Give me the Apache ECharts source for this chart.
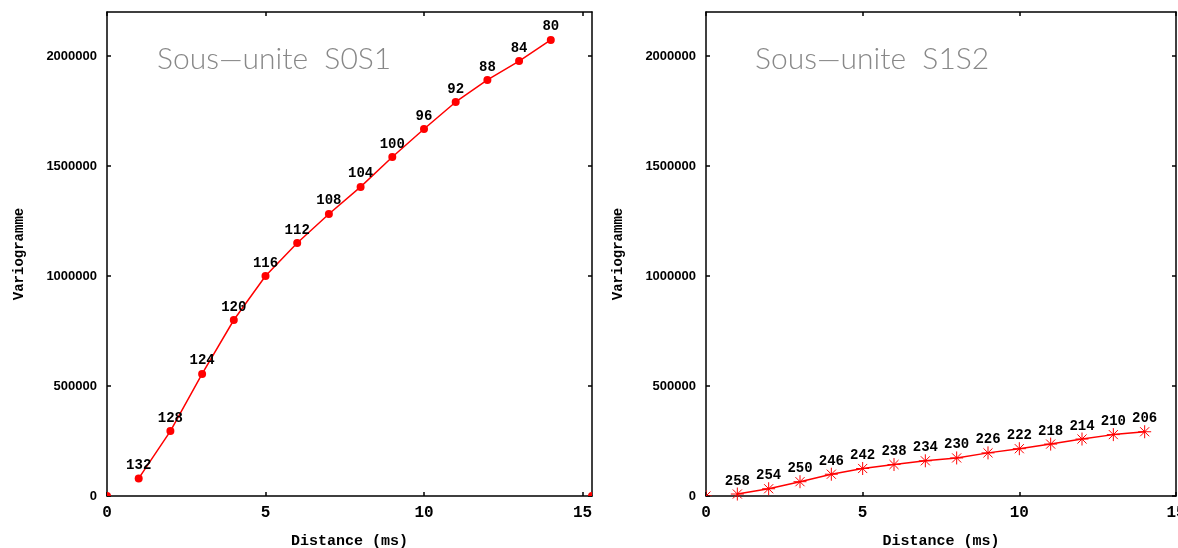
<!DOCTYPE html>
<html>
<head>
<meta charset="utf-8">
<script src="https://cdn.jsdelivr.net/npm/echarts@6/dist/echarts.min.js"></script>
<style>
html,body{margin:0;padding:0;background:#fff;}
#chart{width:1178px;height:548px;}
</style>
</head>
<body>
<div id="chart"></div>
<script>
// ---- data ----
const distances = [1, 2, 3, 4, 5, 6, 7, 8, 9, 10, 11, 12, 13, 14];
const s0s1Values = [80000, 295000, 555000, 800000, 1000000, 1150000, 1282000, 1405000, 1541000, 1668000, 1791000, 1891000, 1977000, 2073000];
const s0s1Labels = [132, 128, 124, 120, 116, 112, 108, 104, 100, 96, 92, 88, 84, 80];
const s1s2Values = [9000, 33000, 65000, 99000, 125000, 143000, 160000, 173000, 196000, 215000, 236000, 259000, 279000, 292000];
const s1s2Labels = [258, 254, 250, 246, 242, 238, 234, 230, 226, 222, 218, 214, 210, 206];
const xTickValues = [0, 5, 10, 15];
const yTickValues = [0, 500000, 1000000, 1500000, 2000000];
const panelTitles = ['Sous\u2014unite  S0S1', 'Sous\u2014unite  S1S2'];
const xAxisName = 'Distance (ms)';
const yAxisName = 'Variogramme';
const leftCornerPoints = [[0, 0], [15.3, 0]];
const rightCornerPoints = [[0, 0]];

// ---- styles ----
const RED = '#ff0000';
const monoBold = {fontFamily: 'Liberation Mono', fontWeight: 'bold', color: '#000'};
const sansBold = {fontFamily: 'Liberation Sans', fontWeight: 'bold', color: '#000'};
const starPath = 'path://M0,10 L20,10 M10,0 L10,20 M3,3 L17,17 M17,3 L3,17';

const grids = [
  {left: 107, top: 12, width: 485, height: 484, outerBoundsMode: 'none', containLabel: false},
  {left: 706, top: 12, width: 470, height: 484, outerBoundsMode: 'none', containLabel: false}
];
const xMax = [15.3, 15];

function xAxes(gi) {
  const base = {
    gridIndex: gi, type: 'value', min: 0, max: xMax[gi], interval: 5,
    axisLine: {show: true, onZero: false, lineStyle: {color: '#000', width: 1.5}},
    splitLine: {show: false},
    axisTick: {show: true, inside: true, length: 4, lineStyle: {color: '#000', width: 1.5}, customValues: xTickValues}
  };
  return [
    Object.assign({}, base, {
      position: 'bottom',
      name: xAxisName, nameLocation: 'middle', nameGap: 38,
      nameTextStyle: Object.assign({fontSize: 15}, monoBold),
      axisLabel: Object.assign({fontSize: 16, margin: 9, customValues: xTickValues,
        formatter: v => (v % 5 === 0 ? String(v) : '')}, monoBold)
    }),
    Object.assign({}, base, {position: 'top', axisLabel: {show: false}})
  ];
}
function yAxes(gi) {
  const base = {
    gridIndex: gi, type: 'value', min: 0, max: 2200000, interval: 500000,
    axisLine: {show: true, onZero: false, lineStyle: {color: '#000', width: 1.5}},
    splitLine: {show: false},
    axisTick: {show: true, inside: true, length: 4, lineStyle: {color: '#000', width: 1.5}, customValues: yTickValues}
  };
  return [
    Object.assign({}, base, {
      position: 'left',
      name: yAxisName, nameLocation: 'middle', nameGap: 81, nameRotate: 90,
      nameTextStyle: Object.assign({fontSize: 14}, monoBold),
      axisLabel: Object.assign({fontSize: 13, margin: 10, customValues: yTickValues,
        formatter: v => (v % 500000 === 0 ? String(v) : '')}, sansBold)
    }),
    Object.assign({}, base, {position: 'right', axisLabel: {show: false}})
  ];
}

function labelFor(labels, dist) {
  return Object.assign({
    show: true, position: 'top', distance: dist, fontSize: 14,
    formatter: p => String(labels[p.dataIndex])
  }, monoBold);
}

function cornerSeries(xi, yi, pts, star) {
  return {
    type: 'custom', xAxisIndex: xi, yAxisIndex: yi, clip: true, z: 1,
    data: pts,
    renderItem: function (params, api) {
      const p = api.coord([api.value(0), api.value(1)]);
      if (star) {
        return {type: 'path', shape: {pathData: 'M-6,0 L6,0 M0,-6 L0,6 M-4.5,-4.5 L4.5,4.5 M4.5,-4.5 L-4.5,4.5', x: p[0]-6, y: p[1]-6, width: 12, height: 12},
          style: {stroke: RED, lineWidth: 1, fill: null}};
      }
      return {type: 'circle', shape: {cx: p[0], cy: p[1], r: 4}, style: {fill: RED}};
    }
  };
}

const titleStyle = {fontFamily: 'Lato', fontWeight: 300, fontSize: 30, color: '#888'};

const option = {
  animation: false,
  backgroundColor: '#fff',
  grid: grids,
  title: [
    {text: panelTitles[0], left: 152, top: 39, textStyle: titleStyle},
    {text: panelTitles[1], left: 750, top: 39, textStyle: titleStyle}
  ],
  xAxis: [].concat(xAxes(0), xAxes(1)),
  yAxis: [].concat(yAxes(0), yAxes(1)),
  series: [
    {
      type: 'line', xAxisIndex: 0, yAxisIndex: 0,
      data: distances.map((x, i) => [x, s0s1Values[i]]),
      symbol: 'circle', symbolSize: 8,
      lineStyle: {color: RED, width: 1.5},
      itemStyle: {color: RED},
      label: labelFor(s0s1Labels, 2)
    },
    cornerSeries(0, 0, leftCornerPoints, false),
    {
      type: 'line', xAxisIndex: 2, yAxisIndex: 2,
      data: distances.map((x, i) => [x, s1s2Values[i]]),
      symbol: starPath, symbolSize: 13, symbolKeepAspect: true,
      lineStyle: {color: RED, width: 1.5},
      itemStyle: {color: 'rgba(0,0,0,0)', borderColor: RED, borderWidth: 1},
      label: labelFor(s1s2Labels, -1)
    },
    cornerSeries(2, 2, rightCornerPoints, true)
  ]
};

const chart = echarts.init(document.getElementById('chart'), null, {renderer: 'canvas'});
chart.setOption(option);
</script>
</body>
</html>
